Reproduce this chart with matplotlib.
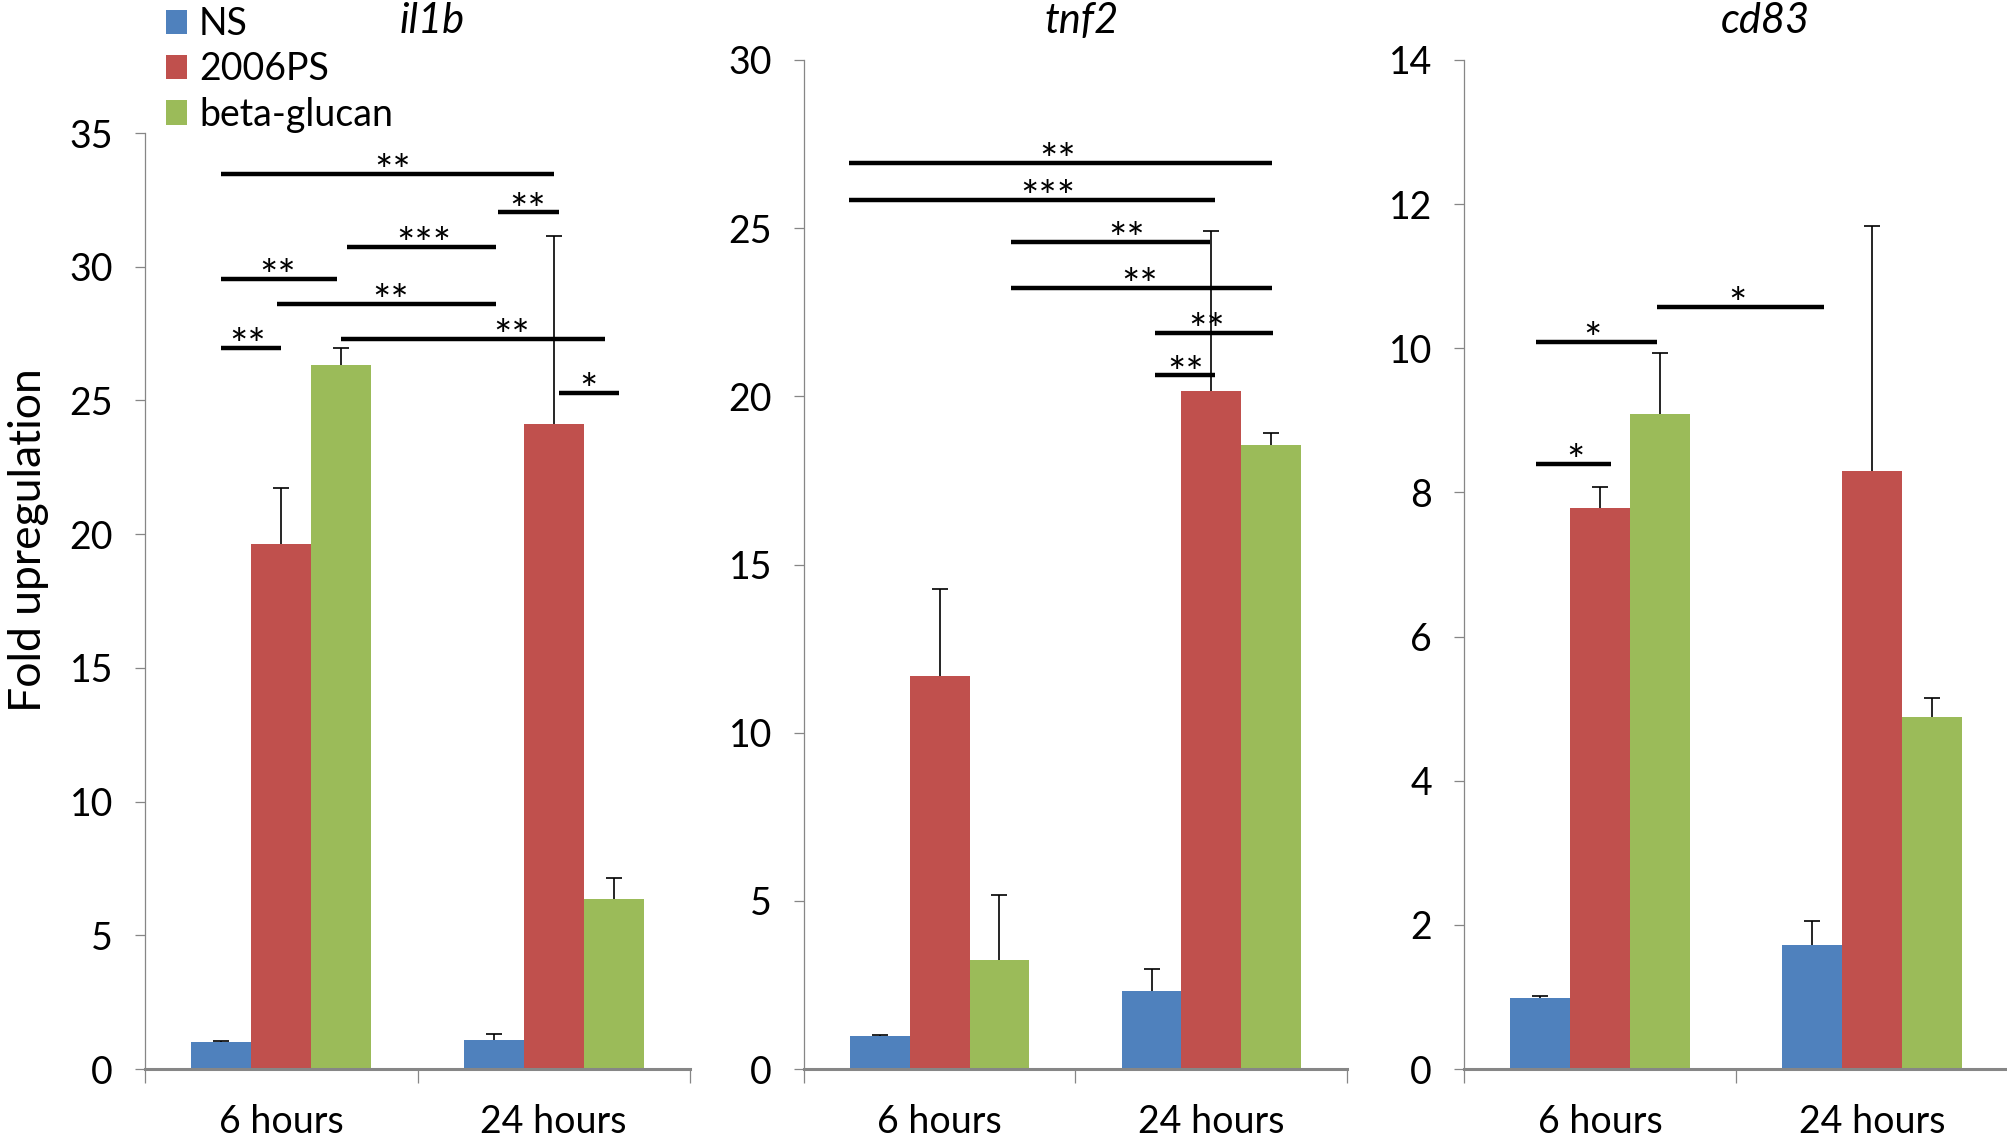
import numpy as np
import matplotlib
matplotlib.use("Agg")
import matplotlib.pyplot as plt
from matplotlib.transforms import blended_transform_factory

plt.rcParams['font.family'] = ['Lato', 'DejaVu Sans']

# data
categories = ["6 hours", "24 hours"]
series = ["NS", "2006PS", "beta-glucan"]
colors = ["#4F81BD", "#C0504D", "#9BBB59"]
genes = ["il1b", "tnf2", "cd83"]

il1b_ns = [1.0, 1.09]
il1b_ns_err = [0.03, 0.22]
il1b_ps = [19.63, 24.13]
il1b_ps_err = [2.10, 7.03]
il1b_bg = [26.33, 6.35]
il1b_bg_err = [0.62, 0.79]

tnf2_ns = [0.99, 2.31]
tnf2_ns_err = [0.02, 0.66]
tnf2_ps = [11.69, 20.17]
tnf2_ps_err = [2.58, 4.76]
tnf2_bg = [3.23, 18.54]
tnf2_bg_err = [1.94, 0.38]

cd83_ns = [0.99, 1.72]
cd83_ns_err = [0.02, 0.33]
cd83_ps = [7.78, 8.30]
cd83_ps_err = [0.29, 3.39]
cd83_bg = [9.09, 4.88]
cd83_bg_err = [0.84, 0.27]

ylims = [35, 30, 14]
ysteps = [5, 5, 2]

# significance bars: start, end, height, star position, label
il1b_sig_x0 = [-0.222, 0.796, 0.240, -0.222, -0.017, 0.218, -0.222, 1.018]
il1b_sig_x1 = [1.0, 1.018, 0.787, 0.204, 0.787, 1.188, -0.002, 1.239]
il1b_sig_y = [33.46, 32.03, 30.75, 29.53, 28.61, 27.29, 26.95, 25.29]
il1b_sig_tx = [0.409, 0.903, 0.522, -0.014, 0.40, 0.846, -0.125, 1.127]
il1b_sig_lab = ["**", "**", "***", "**", "**", "**", "**", "*"]

tnf2_sig_x0 = [-0.333, -0.333, 0.264, 0.264, 0.793, 0.793]
tnf2_sig_x1 = [1.224, 1.014, 0.994, 1.224, 1.227, 1.014]
tnf2_sig_y = [26.95, 25.83, 24.59, 23.22, 21.89, 20.62]
tnf2_sig_tx = [0.434, 0.398, 0.687, 0.735, 0.982, 0.906]
tnf2_sig_lab = ["**", "***", "**", "**", "**", "**"]

cd83_sig_x0 = [-0.236, 0.209, -0.236]
cd83_sig_x1 = [0.209, 0.824, 0.041]
cd83_sig_y = [10.09, 10.57, 8.39]
cd83_sig_tx = [-0.027, 0.507, -0.09]
cd83_sig_lab = ["*", "*", "*"]

title_x = [0.554, 0.524, 0.608]

means = [[il1b_ns, il1b_ps, il1b_bg], [tnf2_ns, tnf2_ps, tnf2_bg], [cd83_ns, cd83_ps, cd83_bg]]
errs = [[il1b_ns_err, il1b_ps_err, il1b_bg_err], [tnf2_ns_err, tnf2_ps_err, tnf2_bg_err],
        [cd83_ns_err, cd83_ps_err, cd83_bg_err]]
sigs = [(il1b_sig_x0, il1b_sig_x1, il1b_sig_y, il1b_sig_tx, il1b_sig_lab),
        (tnf2_sig_x0, tnf2_sig_x1, tnf2_sig_y, tnf2_sig_tx, tnf2_sig_lab),
        (cd83_sig_x0, cd83_sig_x1, cd83_sig_y, cd83_sig_tx, cd83_sig_lab)]

W, H = 2008, 1134
fig = plt.figure(figsize=(W / 100, H / 100), dpi=100)

# axes boxes in pixels: left, right, top
boxes = [(145, 690, 133), (804, 1347, 60), (1464, 2008, 60)]
bottom = 1069

gray = "#868686"
width = 0.22
offsets = [-0.22, 0.0, 0.22]
x = np.arange(len(categories))
fs = 27

handles = []
for i, ax_box in enumerate(boxes):
    l, r, t = ax_box
    ax = fig.add_axes([l / W, 1 - bottom / H, (r - l) / W, (bottom - t) / H])
    for j in range(3):
        b = ax.bar(x + offsets[j], means[i][j], width, color=colors[j], zorder=2, label=series[j])
        if i == 0:
            handles.append(b)
        eb = ax.errorbar(x + offsets[j], means[i][j], yerr=[np.zeros(2), errs[i][j]], fmt="none",
                         ecolor="black", elinewidth=1.2, capsize=6, capthick=1.2, zorder=3)
        for cl in eb[1]:
            if np.allclose(cl.get_ydata(), means[i][j]):
                cl.set_visible(False)

    x0, x1, sy, tx, lab = sigs[i]
    for k in range(len(sy)):
        ax.plot([x0[k], x1[k]], [sy[k], sy[k]], color="black", lw=3.2, solid_capstyle="butt",
                zorder=4, clip_on=False)
        ax.annotate(lab[k], xy=(tx[k], sy[k]), xytext=(0, -8), textcoords="offset points",
                    ha="center", va="baseline", fontsize=31, zorder=5)

    ax.set_xlim(-0.5, 1.5)
    ax.set_ylim(0, ylims[i])
    ax.set_yticks(np.arange(0, ylims[i] + 0.01, ysteps[i]))
    ax.set_xticks([-0.5, 0.5, 1.5])
    ax.set_xticklabels([])
    ax.set_xticks(x, minor=True)
    ax.set_xticklabels(categories, minor=True)
    ax.tick_params(axis="x", which="major", direction="out", length=10, width=0.9, color=gray)
    ax.tick_params(axis="x", which="minor", length=0, pad=25, labelsize=fs)
    ax.tick_params(axis="y", direction="out", length=7, width=0.9, color=gray, pad=16, labelsize=fs)
    for s in ["top", "right"]:
        ax.spines[s].set_visible(False)
    ax.spines["left"].set_color(gray)
    ax.spines["left"].set_linewidth(0.9)
    ax.spines["left"].set_bounds(0, ylims[i])
    ax.spines["bottom"].set_color(gray)
    ax.spines["bottom"].set_linewidth(2.2)

    tr = blended_transform_factory(ax.transData, fig.transFigure)
    ax.text(title_x[i], 1 - 33 / H, genes[i], transform=tr, ha="center", va="baseline",
            fontsize=30, style="italic")

    if i == 0:
        ax.set_ylabel("Fold upregulation", fontsize=32, labelpad=15)
        ax.yaxis.label.set_y(0.565)

fig.legend(handles=handles, labels=series, loc="upper left", bbox_to_anchor=(166 / W, 1 - 6 / H),
           frameon=False, fontsize=fs, borderpad=0, borderaxespad=0, labelspacing=0.25,
           handlelength=0.55, handleheight=0.63, handletextpad=0.33)

fig.savefig("out.png", dpi=100)
